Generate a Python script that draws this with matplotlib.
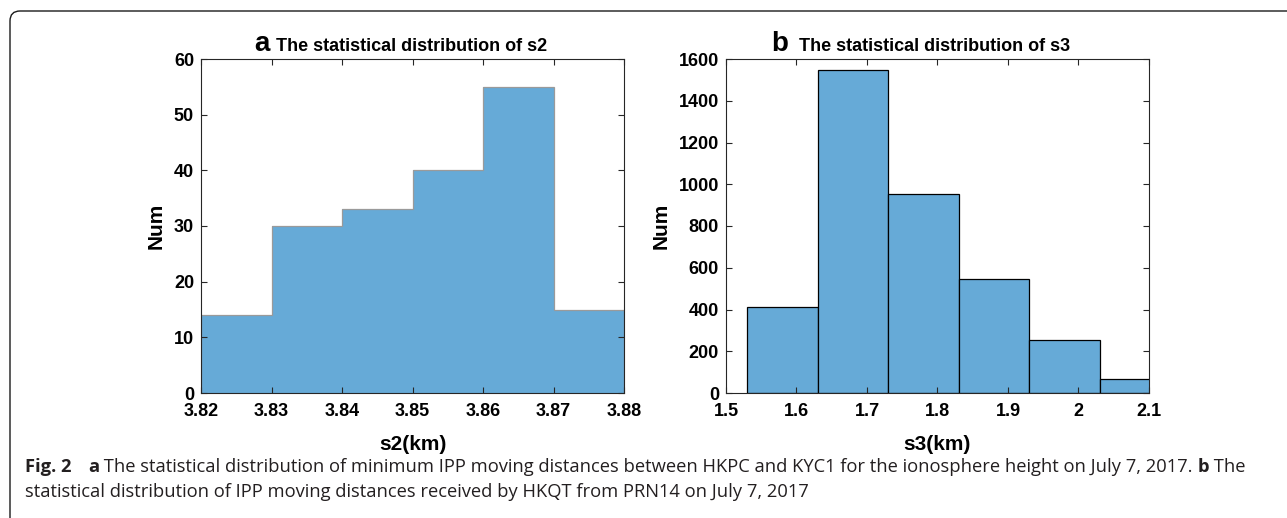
import matplotlib.pyplot as plt
import numpy as np
from matplotlib.patches import FancyBboxPatch
from matplotlib.ticker import FormatStrFormatter

# panel a
s2_edges = [3.82, 3.83, 3.84, 3.85, 3.86, 3.87, 3.88]
s2_counts = [14, 30, 33, 40, 55, 15]
# panel b
s3_edges = [1.53, 1.63, 1.73, 1.83, 1.93, 2.03, 2.13]
s3_counts = [412, 1545, 954, 545, 254, 65]

s2_ticks = [3.82, 3.83, 3.84, 3.85, 3.86, 3.87, 3.88]
s3_ticks = [1.5, 1.6, 1.7, 1.8, 1.9, 2.0, 2.1]

caption_1 = [('a', 'bold'),
             (' The statistical distribution of minimum IPP moving distances between HKPC and KYC1 '
              'for the ionosphere height on July 7, 2017. ', 'normal'),
             ('b', 'bold'), (' The', 'normal')]
caption_2 = 'statistical distribution of IPP moving distances received by HKQT from PRN14 on July 7, 2017'

plt.rcParams['font.family'] = ['Liberation Sans', 'DejaVu Sans']
bar_col = '#66aad7'
ax_col = '#262626'
W, H = 1287, 518

fig = plt.figure(figsize=(W / 100, H / 100), dpi=100)

# rounded frame round the whole figure, running off the right and bottom
frame = FancyBboxPatch((10, -100), 1400, H - 11 + 100,
                       boxstyle='round,pad=0,rounding_size=10',
                       transform=None, fill=False,
                       edgecolor='#1a1a1a', lw=1.0)
fig.patches.append(frame)

ax1 = fig.add_axes([201 / W, 1 - 393 / H, 423 / W, 334 / H])
ax2 = fig.add_axes([726 / W, 1 - 393 / H, 423 / W, 334 / H])

ax1.stairs(s2_counts, s2_edges, fill=True, color=bar_col)
ax1.stairs(s2_counts, s2_edges, color='#9a9a9a', lw=0.9)
ax1.set_xlim(3.82, 3.88)
ax1.set_ylim(0, 60)
ax1.set_xticks(s2_ticks)
ax1.set_yticks(range(0, 61, 10))

ax2.bar(s3_edges[:-1], s3_counts, width=np.diff(s3_edges), align='edge',
        color=bar_col, edgecolor='black', lw=0.9)
ax2.set_xlim(1.5, 2.1)
ax2.set_ylim(0, 1600)
ax2.set_xticks(s3_ticks)
ax2.set_yticks(range(0, 1601, 200))
ax2.xaxis.set_major_formatter(FormatStrFormatter('%g'))

for ax, lab in [(ax1, 's2(km)'), (ax2, 's3(km)')]:
    ax.tick_params(direction='in', top=True, right=True, length=4,
                   labelsize=13, width=0.8, color=ax_col)
    ax.tick_params(axis='y', pad=5)
    ax.tick_params(axis='x', pad=7)
    for t in ax.get_xticklabels() + ax.get_yticklabels():
        t.set_fontweight('bold')
    for sp in ax.spines.values():
        sp.set_color(ax_col)
        sp.set_linewidth(0.8)
    ax.set_xlabel(lab, fontsize=15, fontweight='bold', labelpad=11)
    ax.set_ylabel('Num', fontsize=15, fontweight='bold', labelpad=6)

ax1.text(0.127, 1.025, 'a', transform=ax1.transAxes, fontsize=20,
         fontweight='bold', va='baseline', ha='left')
ax1.text(0.177, 1.025, 'The statistical distribution of s2', transform=ax1.transAxes,
         fontsize=13, fontweight='bold', va='baseline', ha='left')
ax2.text(0.106, 1.025, 'b', transform=ax2.transAxes, fontsize=20,
         fontweight='bold', va='baseline', ha='left')
ax2.text(0.173, 1.025, 'The statistical distribution of s3', transform=ax2.transAxes,
         fontsize=13, fontweight='bold', va='baseline', ha='left')

# caption, written piece by piece so bold and normal runs sit side by side
cap_font = ['Open Sans', 'DejaVu Sans']
cap_size = 13.2
cap_col = '#231f20'
renderer = fig.canvas.get_renderer()
fig.text(25 / W, 1 - 472 / H, 'Fig. 2', fontsize=cap_size, fontweight='bold',
         family=cap_font, color=cap_col, va='baseline', ha='left')
x = 88
for s, w in caption_1:
    t = fig.text(x / W, 1 - 472 / H, s, fontsize=cap_size, fontweight=w,
                 family=cap_font, color=cap_col, va='baseline', ha='left')
    x += t.get_window_extent(renderer).width
fig.text(25 / W, 1 - 497 / H, caption_2, fontsize=cap_size, family=cap_font,
         color=cap_col, va='baseline', ha='left')

fig.savefig('out.png', dpi=100)
